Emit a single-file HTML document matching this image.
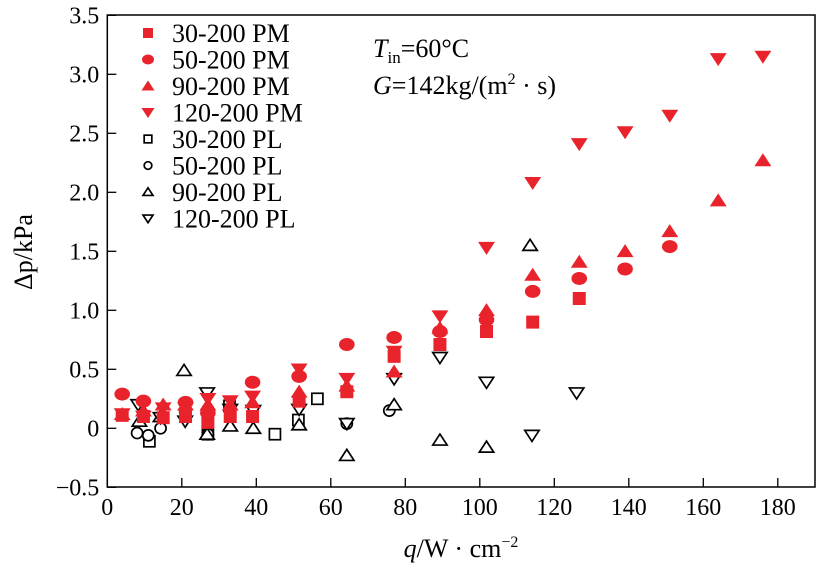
<!DOCTYPE html>
<html><head><meta charset="utf-8"><style>
body{margin:0;background:#fff}
svg{display:block}
svg text{font-family:"Liberation Serif","DejaVu Serif","Times New Roman",serif}
</style></head><body>
<svg id="chart" width="817" height="567"></svg>
<script>
const xTicks=[0,20,40,60,80,100,120,140,160,180];
const yTicks=[-0.5,0,0.5,1.0,1.5,2.0,2.5,3.0,3.5];
const yTickLabels=["−0.5","0","0.5","1.0","1.5","2.0","2.5","3.0","3.5"];
const seriesNames=["30-200 PM","50-200 PM","90-200 PM","120-200 PM","30-200 PL","50-200 PL","90-200 PL","120-200 PL"];
const pmSquareQ=[4,9.7,15,21,27,33,39,51.5,64.3,77,89.3,101.8,114.2,126.7];
const pmSquareV=[0.11,0.1,0.09,0.1,0.05,0.1,0.1,0.23,0.31,0.61,0.71,0.82,0.9,1.1];
const pmCircleQ=[4,9.7,21,27,39,51.5,64.3,77,89.3,101.8,114.2,126.7,139,151];
const pmCircleV=[0.29,0.23,0.22,0.13,0.39,0.44,0.71,0.77,0.82,0.92,1.16,1.27,1.35,1.54];
const pmUpQ=[4,9.7,15,21,27,33,39,51.5,64.3,77,89.3,101.8,114.2,126.7,139,151,164,176];
const pmUpV=[0.12,0.15,0.2,0.2,0.2,0.2,0.22,0.31,0.36,0.48,0.85,1.0,1.3,1.41,1.5,1.67,1.93,2.27];
const pmDownQ=[4,9.7,15,21,27,33,39,51.5,64.3,77,89.3,101.8,114.2,126.7,139,151,164,176];
const pmDownV=[0.12,0.1,0.17,0.17,0.25,0.23,0.27,0.5,0.42,0.65,0.95,1.53,2.08,2.41,2.51,2.65,3.13,3.15];
const plSquareQ=[11.3,27,32.8,45,51.3,56.4];
const plSquareV=[-0.11,-0.05,0.19,-0.05,0.07,0.25];
const plCircleQ=[8,11,14.3,20.9,27,39,64.3,75.7];
const plCircleV=[-0.04,-0.06,0,0.14,-0.05,0.11,0.04,0.15];
const plUpQ=[8.6,14.3,20.6,26.8,33,39.2,51.5,64.3,77,89.3,101.8,113.5];
const plUpV=[0.06,0.1,0.49,-0.05,0.02,0,0.03,-0.23,0.2,-0.1,-0.16,1.55];
const plDownQ=[8.3,14.3,20.9,26.8,33,39.2,51.5,64.3,77,89.3,101.8,114,126];
const plDownV=[0.2,0.09,0.06,0.3,0.16,0.15,0.16,0.04,0.42,0.6,0.39,-0.06,0.3];

const NS="http://www.w3.org/2000/svg";
const svg=document.getElementById('chart');
const L=107.3,R=815,T=15,B=487;
const xs=v=>107.3+v*3.725;
const ys=v=>428.3-v*118;
const RED="#e8232b";
const FF='"Liberation Serif","DejaVu Serif",serif';
function mk(tag,attrs,parent){const e=document.createElementNS(NS,tag);for(const k in attrs)e.setAttribute(k,attrs[k]);if(tag==='text')e.setAttribute('font-family',FF);(parent||svg).appendChild(e);return e;}

const frame=mk('rect',{x:L,y:T,width:R-L,height:B-T,fill:'none',stroke:'#000','stroke-width':1.5});



xTicks.forEach(t=>{
  const x=xs(t);
  const tk=mk('line',{x1:x,x2:x,y1:B,y2:B-9,stroke:'#000','stroke-width':1.3});
  
  
  const lb=mk('text',{x:x,y:B+28,'text-anchor':'middle','font-size':24});
  lb.textContent=t;
  
  
});
yTicks.forEach((t,i)=>{
  const y=ys(t);
  const tk=mk('line',{x1:L,x2:L+9,y1:y,y2:y,stroke:'#000','stroke-width':1.3});
  
  
  const lb=mk('text',{x:L-8,y:y+8,'text-anchor':'end','font-size':24});
  lb.textContent=yTickLabels[i];
  
  
});

function marker(kind,x,y,filled,s,parent){
  const col=filled?RED:'#000';
  const fill=filled?RED:'#fff';
  const sw=filled?0:1.7;
  const h=filled?s:s*0.85;
  let e;
  if(kind==='square') e=mk('rect',{x:x-h/2,y:y-h/2,width:h,height:h,fill,stroke:col,'stroke-width':sw},parent);
  else if(kind==='circle') e=filled?mk('ellipse',{cx:x,cy:y,rx:h*0.6,ry:h*0.5,fill,stroke:col,'stroke-width':sw},parent):mk('circle',{cx:x,cy:y,r:h/2,fill,stroke:col,'stroke-width':sw},parent);
  else if(kind==='up') e=mk('polygon',{points:`${x-h*0.65},${y+h*0.45} ${x+h*0.65},${y+h*0.45} ${x},${y-h*0.55}`,fill,stroke:col,'stroke-width':sw},parent);
  else e=mk('polygon',{points:`${x-h*0.65},${y-h*0.45} ${x+h*0.65},${y-h*0.45} ${x},${y+h*0.55}`,fill,stroke:col,'stroke-width':sw},parent);
  return e;
}
const series=[
 ['square',true,pmSquareQ,pmSquareV,'series-30-200-pm'],
 ['circle',true,pmCircleQ,pmCircleV,'series-50-200-pm'],
 ['up',true,pmUpQ,pmUpV,'series-90-200-pm'],
 ['down',true,pmDownQ,pmDownV,'series-120-200-pm'],
 ['square',false,plSquareQ,plSquareV,'series-30-200-pl'],
 ['circle',false,plCircleQ,plCircleV,'series-50-200-pl'],
 ['up',false,plUpQ,plUpV,'series-90-200-pl'],
 ['down',false,plDownQ,plDownV,'series-120-200-pl']
];
const drawOrder=[4,5,6,7,0,1,2,3];
drawOrder.forEach(i=>{
  const [kind,filled,qs,vs,name]=series[i];
  const g=mk('g',{});
  
  
  qs.forEach((q,j)=>{
    const m=marker(kind,xs(q),ys(vs[j]),filled,13,g);
    
    
  });
});

const lg=mk('g',{});


series.forEach((s,i)=>{
  const y=33+i*26.5;
  const m=marker(s[0],148,y,s[1],s[1]?10:9,lg);
  
  
  const t=mk('text',{x:172,y:y+9,'font-size':26},lg);
  t.textContent=seriesNames[i];
  
  
});

const a1=mk('text',{x:373,y:57,'font-size':26});
a1.innerHTML='<tspan font-style="italic">T</tspan><tspan font-size="17" dy="6">in</tspan><tspan dy="-6">=60°C</tspan>';


const a2=mk('text',{x:373,y:94,'font-size':26});
a2.innerHTML='<tspan font-style="italic">G</tspan>=142kg/(m<tspan font-size="16" dy="-10">2</tspan><tspan dy="10"> · s)</tspan>';



const xt=mk('text',{x:461,y:557,'text-anchor':'middle','font-size':26});
xt.innerHTML='<tspan font-style="italic">q</tspan>/W · cm<tspan font-size="16" dy="-10">−2</tspan>';


const yt=mk('text',{x:0,y:0,'text-anchor':'middle','font-size':26,transform:'translate(32,252) rotate(-90)'});
yt.textContent='Δp/kPa';


</script>
</body></html>
